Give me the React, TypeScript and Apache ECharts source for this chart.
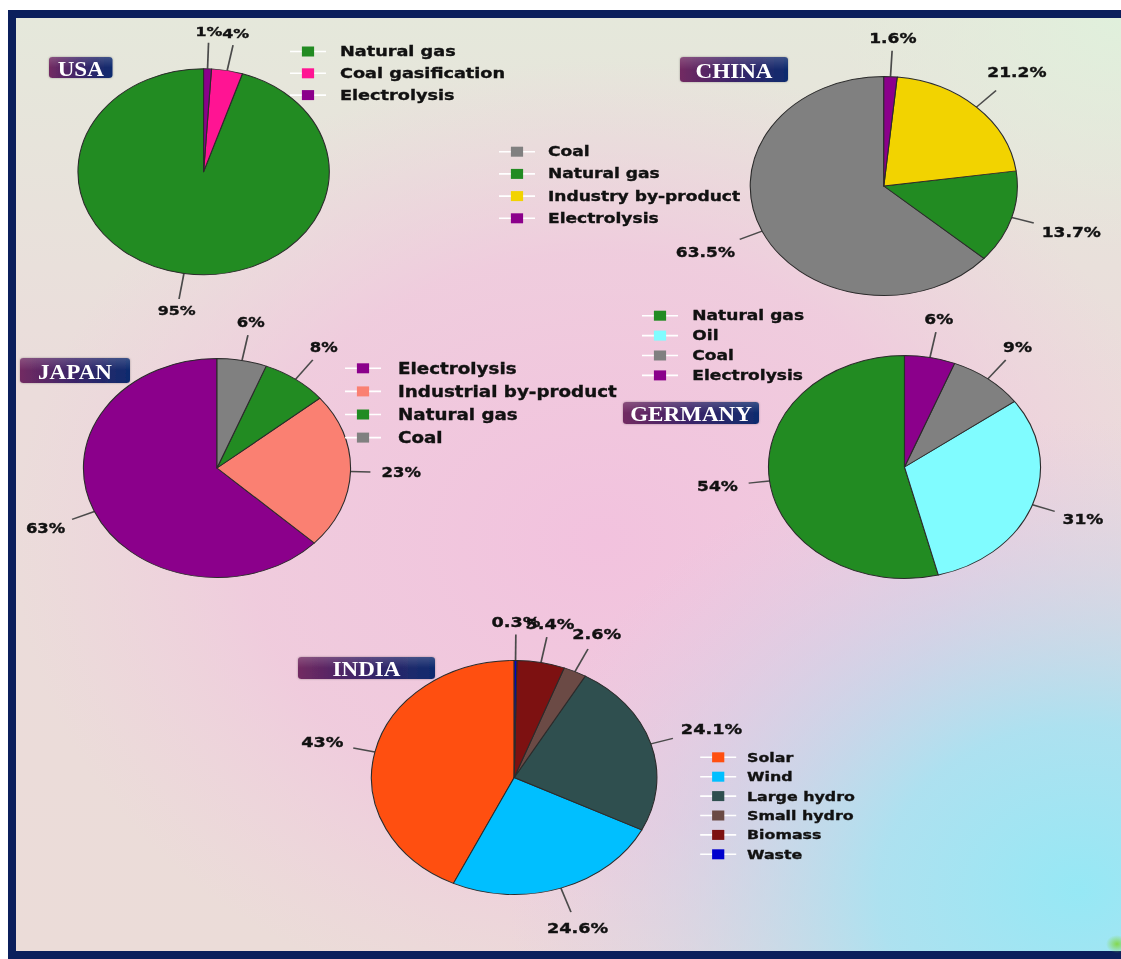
import React, { useEffect, useRef } from 'react';
import * as echarts from 'echarts';

// ---------- page geometry (the whole picture is stretched horizontally) ----------
const PAGE_W = 1121;
const PAGE_H = 959;
const CHART_W = 919;
const SX = PAGE_W / CHART_W;

// ---------- data ----------
const countryNames = ['USA', 'CHINA', 'JAPAN', 'GERMANY', 'INDIA'];

const usaCategories = ['Natural gas', 'Coal gasification', 'Electrolysis'];
const usaValues = [95, 4, 1];
const usaColors = ['#228b22', '#ff1493', '#8b008b'];

const chinaCategories = ['Coal', 'Natural gas', 'Industry by-product', 'Electrolysis'];
const chinaValues = [63.5, 13.7, 21.2, 1.6];
const chinaColors = ['#808080', '#228b22', '#f2d300', '#8b008b'];

const japanCategories = ['Electrolysis', 'Industrial by-product', 'Natural gas', 'Coal'];
const japanValues = [63, 23, 8, 6];
const japanColors = ['#8b008b', '#fa8072', '#228b22', '#808080'];

const germanyCategories = ['Natural gas', 'Oil', 'Coal', 'Electrolysis'];
const germanyValues = [54, 31, 9, 6];
const germanyColors = ['#228b22', '#80fcff', '#808080', '#8b008b'];

const indiaCategories = ['Solar', 'Wind', 'Large hydro', 'Small hydro', 'Biomass', 'Waste'];
const indiaValues = [43, 24.6, 24.1, 2.6, 5.4, 0.3];
const indiaColors = ['#ff4f10', '#00bfff', '#2f4f4f', '#6b4a45', '#7d1111', '#0000cd'];

const allCategories = [usaCategories, chinaCategories, japanCategories, germanyCategories, indiaCategories];
const allValues = [usaValues, chinaValues, japanValues, germanyValues, indiaValues];
const allColors = [usaColors, chinaColors, japanColors, germanyColors, indiaColors];

// ---------- layout (page pixel coordinates) ----------
const layouts = [
  { cx: 203.6, cy: 171.7, r: 103, labelSize: 13, legend: { mx: 308, y0: 51.5, dy: 21.8, tx: 340, size: 14.5 }, tag: [49, 57, 112.5, 78] },
  { cx: 883.8, cy: 186, r: 109.5, labelSize: 14, legend: { mx: 517, y0: 151.7, dy: 22.2, tx: 548, size: 14 }, tag: [680, 57, 788, 82] },
  { cx: 217, cy: 468, r: 109.5, labelSize: 13.5, legend: { mx: 363, y0: 368.3, dy: 23.1, tx: 398, size: 15 }, tag: [20, 358, 130, 383] },
  { cx: 904.5, cy: 467, r: 111.5, labelSize: 14, legend: { mx: 660, y0: 315.7, dy: 19.9, tx: 692.3, size: 14 }, tag: [623, 402, 759, 424] },
  { cx: 514.2, cy: 777.5, r: 117, labelSize: 14.5, legend: { mx: 718.2, y0: 757.3, dy: 19.4, tx: 747, size: 13 }, tag: [298, 657, 435, 679] },
];

const FONT = 'DejaVu Sans';

function makeLabelLayout(k: number) {
  return (params: any) => {
    const l = layouts[k];
    const vals = allValues[k];
    const total = vals.reduce((a, b) => a + b, 0);
    const idx = params.dataIndex;
    let acc = 0;
    for (let j = 0; j < idx; j++) acc += vals[j];
    const mid = ((90 + (360 * (acc + vals[idx] / 2)) / total) * Math.PI) / 180;
    const c = Math.cos(mid);
    const s = Math.sin(mid);
    const cx = l.cx / SX;
    const cy = l.cy;
    const r = l.r;
    const L = 16 + 10 * Math.abs(s);
    const w = params.labelRect ? params.labelRect.width : 30;
    const h = params.labelRect ? params.labelRect.height : 16;
    const ext = Math.sqrt(Math.pow((c * w) / 2, 2) + Math.pow((s * h) / 2, 2));
    const d = r + L + 5 + 4 * c * c + ext;
    const p0 = [cx + c * r, cy - s * r];
    const p1 = [cx + c * (r + L), cy - s * (r + L)];
    return {
      x: cx + c * d,
      y: cy - s * d,
      align: 'center',
      verticalAlign: 'middle',
      labelLinePoints: [p0, p1, [p1[0], p1[1]]],
    };
  };
}

function buildOption() {
  const series = layouts.map((l, k) => ({
    type: 'pie',
    name: countryNames[k],
    center: [l.cx / SX, l.cy],
    radius: l.r,
    startAngle: 90,
    clockwise: false,
    avoidLabelOverlap: false,
    silent: true,
    z: 2,
    data: allCategories[k].map((n, i) => ({ name: n, value: allValues[k][i], itemStyle: { color: allColors[k][i] } })),
    itemStyle: { borderColor: '#2b2b2b', borderWidth: 0.9 },
    label: {
      show: true,
      position: 'outside',
      formatter: '{c}%',
      fontSize: l.labelSize,
      fontWeight: 'bold',
      fontFamily: FONT,
      color: '#111',
      textBorderColor: '#111',
      textBorderWidth: 0.35,
    },
    labelLine: { show: true, length: 20, length2: 0, lineStyle: { color: '#4a4a4a', width: 1.4 } },
    labelLayout: makeLabelLayout(k),
    emphasis: { disabled: true },
  }));

  const legend = layouts.map((l, k) => ({
    orient: 'vertical',
    left: l.legend.mx / SX - 5,
    top: l.legend.y0 - 8,
    padding: 0,
    itemWidth: 10,
    itemHeight: 10,
    itemGap: l.legend.dy - 16,
    icon: 'rect',
    selectedMode: false,
    z: 4,
    data: allCategories[k],
    itemStyle: { borderWidth: 0 },
    textStyle: {
      fontSize: l.legend.size,
      fontWeight: 'bold',
      fontFamily: FONT,
      color: '#111',
      textBorderColor: '#111',
      textBorderWidth: 0.35,
      lineHeight: 16,
      padding: [0, 0, 0, (l.legend.tx - l.legend.mx) / SX - 10],
    },
  }));

  const innerX = 16 / SX;
  const innerY = 18;
  const innerW = (PAGE_W - 16) / SX;
  const innerH = 951 - 18;
  const innerShape = { x: innerX, y: innerY, width: innerW, height: innerH };

  const graphics: any[] = [
    { type: 'rect', z: 0, silent: true, shape: { x: 8 / SX, y: 10, width: (PAGE_W - 8) / SX, height: PAGE_H - 10 }, style: { fill: '#0b1f5c' } },
    {
      type: 'rect', z: 0, silent: true, shape: innerShape,
      style: {
        fill: new echarts.graphic.LinearGradient(0, 0, 0, 1, [
          { offset: 0, color: '#e5e8db' },
          { offset: 0.4, color: '#ebdcdb' },
          { offset: 1, color: '#ebdcd8' },
        ]),
      },
    },
    {
      type: 'rect', z: 0, silent: true, shape: innerShape,
      style: {
        fill: new echarts.graphic.RadialGradient(600 / SX, 540, 480, [
          { offset: 0, color: 'rgba(242,194,222,1)' },
          { offset: 0.6, color: 'rgba(241,198,222,0.75)' },
          { offset: 1, color: 'rgba(240,205,222,0)' },
        ], true),
      },
    },
    {
      type: 'rect', z: 0, silent: true, shape: innerShape,
      style: {
        fill: new echarts.graphic.RadialGradient(1080 / SX, 890, 470, [
          { offset: 0, color: 'rgba(150,232,245,1)' },
          { offset: 0.35, color: 'rgba(166,226,242,0.9)' },
          { offset: 0.7, color: 'rgba(200,212,235,0.45)' },
          { offset: 1, color: 'rgba(220,205,230,0)' },
        ], true),
      },
    },
    {
      type: 'rect', z: 0, silent: true, shape: innerShape,
      style: {
        fill: new echarts.graphic.RadialGradient(PAGE_W / SX, 18, 230, [
          { offset: 0, color: 'rgba(224,240,220,1)' },
          { offset: 1, color: 'rgba(228,236,220,0)' },
        ], true),
      },
    },
    {
      type: 'circle', z: 1, silent: true, shape: { cx: 1117 / SX, cy: 944, r: 9 },
      style: {
        fill: new echarts.graphic.RadialGradient(1117 / SX, 944, 9, [
          { offset: 0, color: 'rgba(130,215,70,0.95)' },
          { offset: 1, color: 'rgba(130,215,70,0)' },
        ], true),
      },
    },
  ];

  // white line segments of the legend handles
  layouts.forEach((l, k) => {
    allCategories[k].forEach((_, i) => {
      const y = l.legend.y0 + i * l.legend.dy;
      graphics.push({
        type: 'line', z: 3, silent: true,
        shape: { x1: (l.legend.mx - 18) / SX, y1: y, x2: (l.legend.mx + 18) / SX, y2: y },
        style: { stroke: '#ffffff', lineWidth: 1.6 },
      });
    });
  });

  // country tags
  countryNames.forEach((name, k) => {
    const [x0, y0, x1, y1] = layouts[k].tag;
    graphics.push({
      type: 'rect', z: 6, silent: true,
      shape: { x: x0 / SX, y: y0, width: (x1 - x0) / SX, height: y1 - y0, r: 3 },
      style: {
        fill: new echarts.graphic.LinearGradient(0, 0, 1, 0, [
          { offset: 0, color: '#722a62' },
          { offset: 0.5, color: '#3a2468' },
          { offset: 1, color: '#0e2c6e' },
        ]),
        shadowBlur: 2,
        shadowColor: 'rgba(0,0,0,0.3)',
      },
    });
    graphics.push({
      type: 'rect', z: 6, silent: true,
      shape: { x: x0 / SX, y: y0, width: (x1 - x0) / SX, height: (y1 - y0) / 2, r: [3, 3, 0, 0] },
      style: {
        fill: new echarts.graphic.LinearGradient(0, 0, 0, 1, [
          { offset: 0, color: 'rgba(255,255,255,0.18)' },
          { offset: 1, color: 'rgba(255,255,255,0)' },
        ]),
      },
    });
    graphics.push({
      type: 'text', z: 7, silent: true,
      x: (x0 + x1) / 2 / SX,
      y: (y0 + y1) / 2 + 1,
      scaleX: 0.86,
      style: {
        text: name,
        fill: '#ffffff',
        fontSize: 22,
        fontWeight: 'bold',
        fontFamily: 'Liberation Serif',
        align: 'center',
        verticalAlign: 'middle',
        textAlign: 'center',
        textVerticalAlign: 'middle',
      },
    });
  });

  return {
    animation: false,
    backgroundColor: '#ffffff',
    legend,
    series,
    graphic: { elements: graphics },
  };
}

export default function App() {
  const ref = useRef<HTMLDivElement>(null);
  useEffect(() => {
    document.body.style.overflow = 'hidden';
    if (!ref.current) return;
    const chart = echarts.init(ref.current, undefined, { renderer: 'svg' });
    chart.setOption(buildOption() as any);
    return () => {
      chart.dispose();
    };
  }, []);
  return (
    <div
      ref={ref}
      style={{
        position: 'absolute',
        left: 0,
        top: 0,
        width: CHART_W + 'px',
        height: PAGE_H + 'px',
        transform: `scaleX(${SX})`,
        transformOrigin: '0 0',
      }}
    />
  );
}
